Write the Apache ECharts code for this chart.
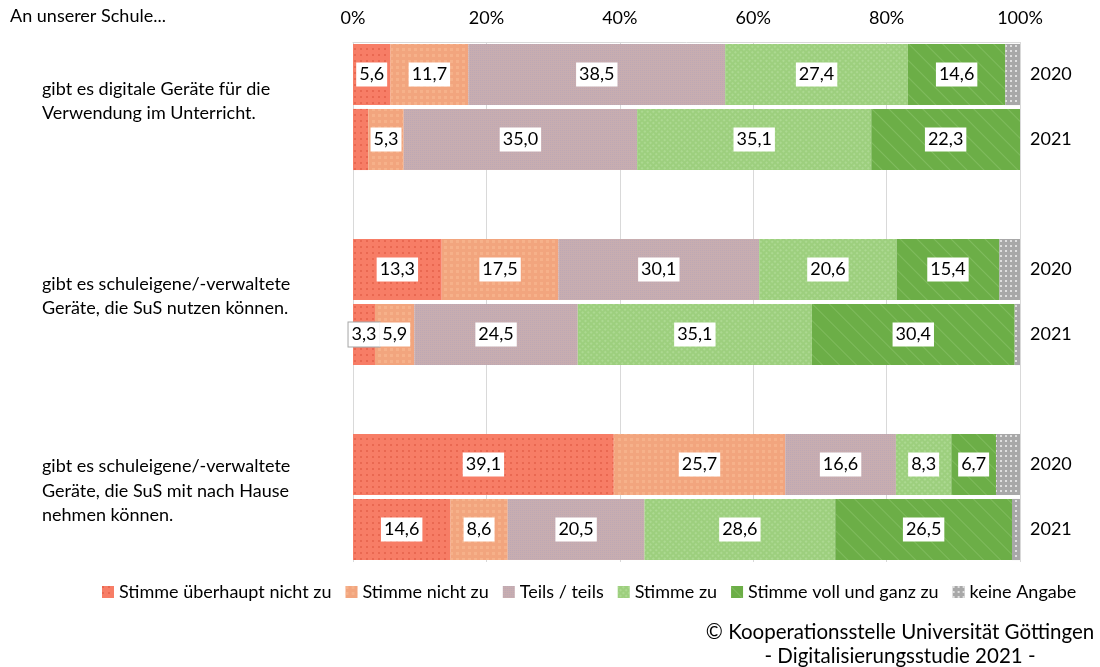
<!DOCTYPE html>
<html>
<head>
<meta charset="utf-8">
<script src="https://cdn.jsdelivr.net/npm/echarts@6/dist/echarts.min.js"></script>
<style>
html,body{margin:0;padding:0;background:#fff;}
#c{width:1100px;height:667px;}
</style>
</head>
<body>
<div id="c"></div>
<script>
// ---- data ----
const yearLabels = ['2020', '2021', '', '2020', '2021', '', '2020', '2021'];
const groupLabels = [
  'gibt es digitale Geräte für die\nVerwendung im Unterricht.',
  'gibt es schuleigene/-verwaltete\nGeräte, die SuS nutzen können.',
  'gibt es schuleigene/-verwaltete\nGeräte, die SuS mit nach Hause\nnehmen können.'
];
const seriesNames = ['Stimme überhaupt nicht zu', 'Stimme nicht zu', 'Teils / teils', 'Stimme zu', 'Stimme voll und ganz zu', 'keine Angabe'];
// per category slot (null = gap row)
const stimmeUeberhauptNichtZu = [5.6, 2.3, null, 13.3, 3.3, null, 39.1, 14.6];
const stimmeNichtZu          = [11.7, 5.3, null, 17.5, 5.9, null, 25.7, 8.6];
const teilsTeils             = [38.5, 35.0, null, 30.1, 24.5, null, 16.6, 20.5];
const stimmeZu               = [27.4, 35.1, null, 20.6, 35.1, null, 8.3, 28.6];
const stimmeVollZu           = [14.6, 22.3, null, 15.4, 30.4, null, 6.7, 26.5];
const keineAngabe            = [2.2, 0.0, null, 3.1, 0.8, null, 3.6, 1.2];
const xTicks = [0, 20, 40, 60, 80, 100];

const FONT = 'Lato';
const FS = 18;
const colors = ['#F77D66', '#F2A57E', '#C8ADB0', '#9DCF7E', '#6CAE47', '#A8A8A8'];
const decals = [
  {symbol: 'rect', symbolSize: 1, color: 'rgba(215,80,55,0.45)', dashArrayX: [2, 4], dashArrayY: [2, 4]},
  {symbol: 'rect', symbolSize: 1, color: 'rgba(250,190,150,0.5)', dashArrayX: [3, 3], dashArrayY: [3, 3]},
  {symbol: 'rect', symbolSize: 1, color: 'rgba(170,160,190,0.35)', dashArrayX: [1, 1], dashArrayY: [1, 1]},
  {symbol: 'rect', symbolSize: 1, color: 'rgba(200,235,180,0.35)', dashArrayX: [2, 2], dashArrayY: [2, 2], rotation: Math.PI / 4},
  {symbol: 'rect', symbolSize: 1, color: 'rgba(150,205,120,0.45)', dashArrayX: [[1, 0]], dashArrayY: [1, 11], rotation: Math.PI / 4},
  {symbol: 'circle', symbolSize: 1, color: 'rgba(255,255,255,0.85)', dashArrayX: [2, 3], dashArrayY: [2, 3]}
];
const allValues = [stimmeUeberhauptNichtZu, stimmeNichtZu, teilsTeils, stimmeZu, stimmeVollZu, keineAngabe];

function fmt(v) { return v.toFixed(1).replace('.', ','); }

const series = allValues.map((vals, si) => ({
  name: seriesNames[si],
  type: 'bar',
  stack: 'total',
  barCategoryGap: '6%',
  itemStyle: {color: colors[si], decal: decals[si]},
  label: {
    show: si < 5,
    position: 'inside',
    formatter: p => fmt(p.value),
    color: '#000',
    fontFamily: FONT,
    fontSize: FS,
    backgroundColor: '#fff',
    borderWidth: 0,
    textBorderWidth: 0,
    padding: [4, 3, 2, 3]
  },
  data: vals.map(v => {
    if (v === null) return '-';
    const item = {value: v};
    if (si === 5 || v < 3.2) item.label = {show: false};
    else if (v < 4) item.label = {borderColor: '#A6A6A6', borderWidth: 1};
    return item;
  })
}));

const chart = echarts.init(document.getElementById('c'));
chart.setOption({
  animation: false,
  aria: {enabled: false, decal: {show: false}},
  textStyle: {fontFamily: FONT},
  grid: {left: 353, right: 80, top: 42, bottom: 105},
  xAxis: {
    type: 'value', position: 'top', min: 0, max: 100, interval: 20,
    axisLine: {show: true, lineStyle: {color: '#D9D9D9'}},
    axisTick: {show: false},
    splitLine: {show: true, lineStyle: {color: '#D9D9D9'}},
    axisLabel: {formatter: v => v + '%', color: '#000', fontSize: FS, fontFamily: FONT, margin: 15}
  },
  yAxis: {
    type: 'category', inverse: true, position: 'right', data: yearLabels,
    axisLine: {show: false}, axisTick: {show: false},
    axisLabel: {color: '#000', fontSize: FS, fontFamily: FONT, margin: 10}
  },
  legend: {
    left: 97, top: 578, itemWidth: 12, itemHeight: 12, itemGap: 14,
    icon: 'rect',
    textStyle: {color: '#000', fontSize: FS, fontFamily: FONT},
    data: seriesNames
  },
  series: series
});

function drawText() {
  const els = [{
    type: 'text', left: 10, top: 7,
    style: {text: 'An unserer Schule...', fontFamily: FONT, fontSize: FS, fill: '#000'}
  }];
  groupLabels.forEach((t, g) => {
    const y1 = chart.convertToPixel({yAxisIndex: 0}, g * 3);
    const y2 = chart.convertToPixel({yAxisIndex: 0}, g * 3 + 1);
    els.push({
      type: 'text', x: 42, y: (y1 + y2) / 2 - 6,
      style: {text: t, fontFamily: FONT, fontSize: FS, lineHeight: 24.5, fill: '#000', verticalAlign: 'middle', align: 'left'}
    });
  });
  els.push({
    type: 'text', x: 900, y: 620,
    style: {text: '© Kooperationsstelle Universität Göttingen\n- Digitalisierungsstudie 2021 -', fontFamily: FONT, fontSize: 20.5, lineHeight: 24, fill: '#000', align: 'center'}
  });
  chart.setOption({graphic: els});
}
drawText();
</script>
</body>
</html>
